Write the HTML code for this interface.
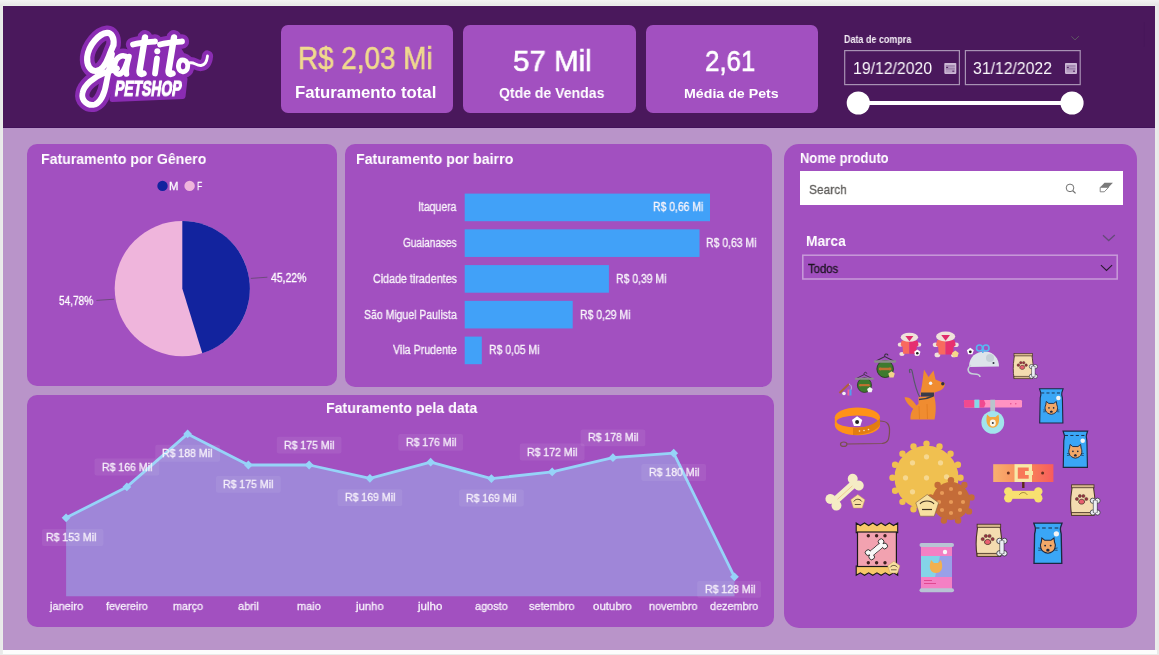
<!DOCTYPE html>
<html><head><meta charset="utf-8">
<style>
*{margin:0;padding:0;box-sizing:border-box}
html,body{width:1159px;height:655px;overflow:hidden;background:#e9e9e9;font-family:"Liberation Sans",sans-serif}
.a{position:absolute}
.t{position:absolute;white-space:nowrap;transform-origin:0 0;will-change:transform}
svg{position:absolute;left:0;top:0;overflow:visible}
</style></head><body>

<div class="a" style="left:0;top:0;width:1159px;height:6px;background:linear-gradient(#f3f3f3,#e5e5e5)"></div>
<div class="a" style="left:2px;top:5px;width:1155px;height:650px;background:#eaedea"></div>
<div class="a" style="left:2.5px;top:650px;width:1154px;height:4px;background:#fdfdfd"></div>
<div class="a" style="left:3px;top:6px;width:1152px;height:644px;background:#b994c9"></div>
<div class="a" style="left:3px;top:6px;width:1152px;height:121.5px;background:#4a185c;border-bottom:1px solid #42125a"></div>
<div class="a" style="left:280.5px;top:25px;width:172.3px;height:88px;background:#a250c0;border-radius:7px"></div>
<div class="a" style="left:463.4px;top:25px;width:172.3px;height:88px;background:#a250c0;border-radius:7px"></div>
<div class="a" style="left:645.7px;top:25px;width:172.3px;height:88px;background:#a250c0;border-radius:7px"></div>
<div class="t" style="left:298.30px;top:43px;font-size:31.5px;line-height:31.5px;color:#f0da8e;transform:scaleX(0.8844) ;-webkit-text-stroke:0.6px #f0da8e;">R$ 2,03 Mi</div>
<div class="t" style="left:294.80px;top:84px;font-size:16.5px;line-height:16.5px;color:#fff;font-weight:bold;transform:scaleX(1.0140) ;">Faturamento total</div>
<div class="t" style="left:513.10px;top:46px;font-size:30.0px;line-height:30.0px;color:#fff;transform:scaleX(0.9833) ;-webkit-text-stroke:0.6px #fff;">57 Mil</div>
<div class="t" style="left:498.80px;top:85px;font-size:15.5px;line-height:15.5px;color:#fff;font-weight:bold;transform:scaleX(0.9064) ;">Qtde de Vendas</div>
<div class="t" style="left:705.00px;top:46px;font-size:30.0px;line-height:30.0px;color:#fff;transform:scaleX(0.8616) ;-webkit-text-stroke:0.6px #fff;">2,61</div>
<div class="t" style="left:684.30px;top:87px;font-size:13.5px;line-height:13.5px;color:#fff;font-weight:bold;transform:scaleX(1.0519) ;">Média de Pets</div>
<div class="a" style="left:27px;top:144px;width:310px;height:241.6px;background:#a250c0;border-radius:10px"></div>
<div class="a" style="left:344.8px;top:144px;width:427.5px;height:242.7px;background:#a250c0;border-radius:10px"></div>
<div class="a" style="left:27px;top:394.8px;width:746.6px;height:232.5px;background:#a250c0;border-radius:10px"></div>
<div class="a" style="left:784px;top:144.3px;width:353px;height:483.7px;background:#a250c0;border-radius:15px"></div>
<div class="t" style="left:844.40px;top:35px;font-size:10.0px;line-height:10.0px;color:#f4eef6;font-weight:bold;transform:scaleX(0.8963) ;">Data de compra</div>
<svg width="1159" height="655"><polyline points="1071.5,36.4 1075,39.9 1078.9,36.2" fill="none" stroke="#5e5a62" stroke-width="1"/><rect x="844.7" y="50.6" width="114.7" height="34" fill="none" stroke="#a892b4" stroke-width="1.2"/><rect x="965.4" y="50.6" width="114.8" height="34" fill="none" stroke="#a892b4" stroke-width="1.2"/><line x1="1144.3" y1="22" x2="1144.3" y2="46.7" stroke="#47175a" stroke-width="1"/><line x1="858.3" y1="103" x2="1072" y2="103" stroke="#fff" stroke-width="4"/><circle cx="858.3" cy="103" r="11.6" fill="#fff"/><circle cx="1072" cy="103" r="11.6" fill="#fff"/></svg>
<div class="t" style="left:852.50px;top:61px;font-size:16.0px;line-height:16.0px;color:#fbf8fc;transform:scaleX(0.9865) ;">19/12/2020</div>
<div class="t" style="left:973.00px;top:61px;font-size:16.0px;line-height:16.0px;color:#fbf8fc;transform:scaleX(0.9853) ;">31/12/2022</div>
<svg width="1159" height="655"><rect x="944.3" y="62.9" width="12" height="11" rx="0.8" fill="#cbb7d4"/><rect x="945.8" y="65.5" width="9" height="7" fill="#b49cc0"/><rect x="945.8" y="65.5" width="9" height="0.8" fill="#8a6a98"/><rect x="945.8" y="68.5" width="9" height="0.8" fill="#8a6a98"/><rect x="946.0999999999999" y="66.9" width="2" height="1" fill="#4a1a5c"/><rect x="952.3" y="70.7" width="2" height="1" fill="#4a1a5c"/><rect x="1065" y="62.9" width="12" height="11" rx="0.8" fill="#cbb7d4"/><rect x="1066.5" y="65.5" width="9" height="7" fill="#b49cc0"/><rect x="1066.5" y="65.5" width="9" height="0.8" fill="#8a6a98"/><rect x="1066.5" y="68.5" width="9" height="0.8" fill="#8a6a98"/><rect x="1066.8" y="66.9" width="2" height="1" fill="#4a1a5c"/><rect x="1073" y="70.7" width="2" height="1" fill="#4a1a5c"/></svg>
<div class="t" style="left:40.70px;top:151px;font-size:15.0px;line-height:15.0px;color:#fff;font-weight:bold;transform:scaleX(0.9400) ;">Faturamento por Gênero</div>
<svg width="1159" height="655"><circle cx="162.5" cy="185.9" r="5.2" fill="#12239e"/><circle cx="189.6" cy="185.9" r="5.2" fill="#efb5dc"/></svg>
<div class="t" style="left:169.40px;top:181px;font-size:11.5px;line-height:11.5px;color:#fff;transform:scaleX(0.9813) ;-webkit-text-stroke:0.3px #fff;">M</div>
<div class="t" style="left:197.00px;top:181px;font-size:11.5px;line-height:11.5px;color:#fff;transform:scaleX(0.7401) ;-webkit-text-stroke:0.3px #fff;">F</div>
<svg width="1159" height="655"><circle cx="182.3" cy="288.6" r="67.6" fill="#efb5dc"/><path d="M182.3,288.6 L182.3,221.00000000000003 A67.6,67.6 0 0 1 202.30,353.17 Z" fill="#12239e"/><polyline points="250.8,278.4 267.4,277.2" fill="none" stroke="#6f4b7e" stroke-width="1"/><polyline points="96.4,300.4 114,299.2" fill="none" stroke="#6f4b7e" stroke-width="1"/></svg>
<div class="t" style="left:271.10px;top:272px;font-size:12.0px;line-height:12.0px;color:#fff;transform:scaleX(0.8697) ;-webkit-text-stroke:0.3px #fff;">45,22%</div>
<div class="t" style="left:58.60px;top:295px;font-size:12.0px;line-height:12.0px;color:#fff;transform:scaleX(0.8402) ;-webkit-text-stroke:0.3px #fff;">54,78%</div>
<div class="t" style="left:355.80px;top:151px;font-size:15.5px;line-height:15.5px;color:#fff;font-weight:bold;transform:scaleX(0.9178) ;">Faturamento por bairro</div>
<svg width="1159" height="655"><rect x="464.7" y="193.60" width="245.30" height="27.6" fill="#41a1f8"/><rect x="464.7" y="229.35" width="234.80" height="27.6" fill="#41a1f8"/><rect x="464.7" y="265.10" width="144.20" height="27.6" fill="#41a1f8"/><rect x="464.7" y="300.85" width="108.00" height="27.6" fill="#41a1f8"/><rect x="464.7" y="336.60" width="17.10" height="27.6" fill="#41a1f8"/></svg>
<div class="t" style="left:418.00px;top:201px;font-size:12.0px;line-height:12.0px;color:#f8f4fa;transform:scaleX(0.8742) ;-webkit-text-stroke:0.3px #f8f4fa;">Itaquera</div>
<div class="t" style="left:652.80px;top:201px;font-size:12.0px;line-height:12.0px;color:#f8f4fa;transform:scaleX(0.8669) ;-webkit-text-stroke:0.3px #f8f4fa;">R$ 0,66 Mi</div>
<div class="t" style="left:402.90px;top:237px;font-size:12.0px;line-height:12.0px;color:#f8f4fa;transform:scaleX(0.8369) ;-webkit-text-stroke:0.3px #f8f4fa;">Guaianases</div>
<div class="t" style="left:706.40px;top:237px;font-size:12.0px;line-height:12.0px;color:#f8f4fa;transform:scaleX(0.8704) ;-webkit-text-stroke:0.3px #f8f4fa;">R$ 0,63 Mi</div>
<div class="t" style="left:372.60px;top:273px;font-size:12.0px;line-height:12.0px;color:#f8f4fa;transform:scaleX(0.8920) ;-webkit-text-stroke:0.3px #f8f4fa;">Cidade tiradentes</div>
<div class="t" style="left:615.80px;top:273px;font-size:12.0px;line-height:12.0px;color:#f8f4fa;transform:scaleX(0.8704) ;-webkit-text-stroke:0.3px #f8f4fa;">R$ 0,39 Mi</div>
<div class="t" style="left:363.80px;top:309px;font-size:12.0px;line-height:12.0px;color:#f8f4fa;transform:scaleX(0.8740) ;-webkit-text-stroke:0.3px #f8f4fa;">São Miguel Paulista</div>
<div class="t" style="left:579.60px;top:309px;font-size:12.0px;line-height:12.0px;color:#f8f4fa;transform:scaleX(0.8704) ;-webkit-text-stroke:0.3px #f8f4fa;">R$ 0,29 Mi</div>
<div class="t" style="left:392.80px;top:344px;font-size:12.0px;line-height:12.0px;color:#f8f4fa;transform:scaleX(0.8868) ;-webkit-text-stroke:0.3px #f8f4fa;">Vila Prudente</div>
<div class="t" style="left:488.70px;top:344px;font-size:12.0px;line-height:12.0px;color:#f8f4fa;transform:scaleX(0.8704) ;-webkit-text-stroke:0.3px #f8f4fa;">R$ 0,05 Mi</div>
<div class="t" style="left:326.30px;top:400px;font-size:15.5px;line-height:15.5px;color:#fff;font-weight:bold;transform:scaleX(0.9149) ;">Faturamento pela data</div>
<svg width="1159" height="655"><path d="M66.1,596.3 L66.10,517.8 L126.86,486.9 L187.62,433.9 L248.38,465.0 L309.14,465.0 L369.90,478.3 L430.66,462.2 L491.42,478.6 L552.18,471.9 L612.94,457.7 L673.70,453.2 L734.46,576.8 L734.5,596.3 Z" fill="#9f86d8"/><polyline points="66.10,517.8 126.86,486.9 187.62,433.9 248.38,465.0 309.14,465.0 369.90,478.3 430.66,462.2 491.42,478.6 552.18,471.9 612.94,457.7 673.70,453.2 734.46,576.8" fill="none" stroke="#96d3f8" stroke-width="2.8" stroke-linejoin="round"/><rect x="63.00" y="514.70" width="6.2" height="6.2" fill="#96d3f8" transform="rotate(45 66.10 517.8)"/><rect x="123.76" y="483.80" width="6.2" height="6.2" fill="#96d3f8" transform="rotate(45 126.86 486.9)"/><rect x="184.52" y="430.80" width="6.2" height="6.2" fill="#96d3f8" transform="rotate(45 187.62 433.9)"/><rect x="245.28" y="461.90" width="6.2" height="6.2" fill="#96d3f8" transform="rotate(45 248.38 465.0)"/><rect x="306.04" y="461.90" width="6.2" height="6.2" fill="#96d3f8" transform="rotate(45 309.14 465.0)"/><rect x="366.80" y="475.20" width="6.2" height="6.2" fill="#96d3f8" transform="rotate(45 369.90 478.3)"/><rect x="427.56" y="459.10" width="6.2" height="6.2" fill="#96d3f8" transform="rotate(45 430.66 462.2)"/><rect x="488.32" y="475.50" width="6.2" height="6.2" fill="#96d3f8" transform="rotate(45 491.42 478.6)"/><rect x="549.08" y="468.80" width="6.2" height="6.2" fill="#96d3f8" transform="rotate(45 552.18 471.9)"/><rect x="609.84" y="454.60" width="6.2" height="6.2" fill="#96d3f8" transform="rotate(45 612.94 457.7)"/><rect x="670.60" y="450.10" width="6.2" height="6.2" fill="#96d3f8" transform="rotate(45 673.70 453.2)"/><rect x="731.36" y="573.70" width="6.2" height="6.2" fill="#96d3f8" transform="rotate(45 734.46 576.8)"/><rect x="42.00" y="529.10" width="61.4" height="16.9" rx="2" fill="#ffffff" fill-opacity="0.07"/><rect x="94.51" y="458.60" width="64.7" height="16.9" rx="2" fill="#ffffff" fill-opacity="0.07"/><rect x="155.27" y="444.80" width="64.7" height="16.9" rx="2" fill="#ffffff" fill-opacity="0.07"/><rect x="216.03" y="475.90" width="64.7" height="16.9" rx="2" fill="#ffffff" fill-opacity="0.07"/><rect x="276.79" y="436.70" width="64.7" height="16.9" rx="2" fill="#ffffff" fill-opacity="0.07"/><rect x="337.55" y="489.20" width="64.7" height="16.9" rx="2" fill="#ffffff" fill-opacity="0.07"/><rect x="398.31" y="433.90" width="64.7" height="16.9" rx="2" fill="#ffffff" fill-opacity="0.07"/><rect x="459.07" y="489.50" width="64.7" height="16.9" rx="2" fill="#ffffff" fill-opacity="0.07"/><rect x="519.83" y="443.60" width="64.7" height="16.9" rx="2" fill="#ffffff" fill-opacity="0.07"/><rect x="580.59" y="429.40" width="64.7" height="16.9" rx="2" fill="#ffffff" fill-opacity="0.07"/><rect x="641.35" y="464.10" width="64.7" height="16.9" rx="2" fill="#ffffff" fill-opacity="0.07"/><rect x="697.20" y="580.90" width="63.9" height="16.9" rx="2" fill="#ffffff" fill-opacity="0.07"/></svg>
<div class="t" style="left:45.90px;top:532px;font-size:11.0px;line-height:11.0px;color:#f6f0fa;transform:scaleX(0.9566) ;-webkit-text-stroke:0.3px #f6f0fa;">R$ 153 Mil</div>
<div class="t" style="left:101.71px;top:462px;font-size:11.0px;line-height:11.0px;color:#f6f0fa;transform:scaleX(0.9566) ;-webkit-text-stroke:0.3px #f6f0fa;">R$ 166 Mil</div>
<div class="t" style="left:162.47px;top:448px;font-size:11.0px;line-height:11.0px;color:#f6f0fa;transform:scaleX(0.9566) ;-webkit-text-stroke:0.3px #f6f0fa;">R$ 188 Mil</div>
<div class="t" style="left:223.23px;top:479px;font-size:11.0px;line-height:11.0px;color:#f6f0fa;transform:scaleX(0.9566) ;-webkit-text-stroke:0.3px #f6f0fa;">R$ 175 Mil</div>
<div class="t" style="left:283.99px;top:440px;font-size:11.0px;line-height:11.0px;color:#f6f0fa;transform:scaleX(0.9566) ;-webkit-text-stroke:0.3px #f6f0fa;">R$ 175 Mil</div>
<div class="t" style="left:344.75px;top:492px;font-size:11.0px;line-height:11.0px;color:#f6f0fa;transform:scaleX(0.9566) ;-webkit-text-stroke:0.3px #f6f0fa;">R$ 169 Mil</div>
<div class="t" style="left:405.51px;top:437px;font-size:11.0px;line-height:11.0px;color:#f6f0fa;transform:scaleX(0.9566) ;-webkit-text-stroke:0.3px #f6f0fa;">R$ 176 Mil</div>
<div class="t" style="left:466.27px;top:493px;font-size:11.0px;line-height:11.0px;color:#f6f0fa;transform:scaleX(0.9566) ;-webkit-text-stroke:0.3px #f6f0fa;">R$ 169 Mil</div>
<div class="t" style="left:527.03px;top:447px;font-size:11.0px;line-height:11.0px;color:#f6f0fa;transform:scaleX(0.9566) ;-webkit-text-stroke:0.3px #f6f0fa;">R$ 172 Mil</div>
<div class="t" style="left:587.79px;top:432px;font-size:11.0px;line-height:11.0px;color:#f6f0fa;transform:scaleX(0.9566) ;-webkit-text-stroke:0.3px #f6f0fa;">R$ 178 Mil</div>
<div class="t" style="left:648.55px;top:467px;font-size:11.0px;line-height:11.0px;color:#f6f0fa;transform:scaleX(0.9566) ;-webkit-text-stroke:0.3px #f6f0fa;">R$ 180 Mil</div>
<div class="t" style="left:704.60px;top:584px;font-size:11.0px;line-height:11.0px;color:#f6f0fa;transform:scaleX(0.9566) ;-webkit-text-stroke:0.3px #f6f0fa;">R$ 128 Mil</div>
<div class="t" style="left:49.58px;top:601px;font-size:11.5px;line-height:11.5px;color:#f6f0fa;transform:scaleX(0.9595) ;-webkit-text-stroke:0.3px #f6f0fa;">janeiro</div>
<div class="t" style="left:106.30px;top:601px;font-size:11.5px;line-height:11.5px;color:#f6f0fa;transform:scaleX(0.9364) ;-webkit-text-stroke:0.3px #f6f0fa;">fevereiro</div>
<div class="t" style="left:173.00px;top:601px;font-size:11.5px;line-height:11.5px;color:#f6f0fa;transform:scaleX(0.9422) ;-webkit-text-stroke:0.3px #f6f0fa;">março</div>
<div class="t" style="left:238.20px;top:601px;font-size:11.5px;line-height:11.5px;color:#f6f0fa;transform:scaleX(0.9570) ;-webkit-text-stroke:0.3px #f6f0fa;">abril</div>
<div class="t" style="left:297.20px;top:601px;font-size:11.5px;line-height:11.5px;color:#f6f0fa;transform:scaleX(0.9586) ;-webkit-text-stroke:0.3px #f6f0fa;">maio</div>
<div class="t" style="left:356.18px;top:601px;font-size:11.5px;line-height:11.5px;color:#f6f0fa;transform:scaleX(0.9849) ;-webkit-text-stroke:0.3px #f6f0fa;">junho</div>
<div class="t" style="left:418.29px;top:601px;font-size:11.5px;line-height:11.5px;color:#f6f0fa;transform:scaleX(1.0005) ;-webkit-text-stroke:0.3px #f6f0fa;">julho</div>
<div class="t" style="left:474.80px;top:601px;font-size:11.5px;line-height:11.5px;color:#f6f0fa;transform:scaleX(0.9472) ;-webkit-text-stroke:0.3px #f6f0fa;">agosto</div>
<div class="t" style="left:528.90px;top:601px;font-size:11.5px;line-height:11.5px;color:#f6f0fa;transform:scaleX(0.9493) ;-webkit-text-stroke:0.3px #f6f0fa;">setembro</div>
<div class="t" style="left:593.40px;top:601px;font-size:11.5px;line-height:11.5px;color:#f6f0fa;transform:scaleX(0.9921) ;-webkit-text-stroke:0.3px #f6f0fa;">outubro</div>
<div class="t" style="left:649.20px;top:601px;font-size:11.5px;line-height:11.5px;color:#f6f0fa;transform:scaleX(0.9484) ;-webkit-text-stroke:0.3px #f6f0fa;">novembro</div>
<div class="t" style="left:709.80px;top:601px;font-size:11.5px;line-height:11.5px;color:#f6f0fa;transform:scaleX(0.9425) ;-webkit-text-stroke:0.3px #f6f0fa;">dezembro</div>
<div class="t" style="left:800.00px;top:151px;font-size:14.0px;line-height:14.0px;color:#fff;font-weight:bold;transform:scaleX(0.9262) ;">Nome produto</div>
<div class="a" style="left:800px;top:171px;width:323.2px;height:34px;background:#fff"></div>
<div class="t" style="left:809.10px;top:183px;font-size:13.5px;line-height:13.5px;color:#605e5c;transform:scaleX(0.8838) ;-webkit-text-stroke:0.3px #605e5c;">Search</div>
<svg width="1159" height="655"><circle cx="1070" cy="187.9" r="3.8" fill="none" stroke="#707070" stroke-width="1"/><line x1="1072.8" y1="190.7" x2="1075.6" y2="193.4" stroke="#707070" stroke-width="1.2"/><path d="M1104.5,182.8 L1112.9,182.8 L1108.6,187.3 L1100.2,187.3 Z" fill="#7a7a7a"/><path d="M1100.2,187.3 L1108.6,187.3 L1104.3,191.8 L1100.2,191.8 Z" fill="none" stroke="#7a7a7a" stroke-width="0.9"/><polyline points="1103,235.2 1108.7,240.5 1114.8,235" fill="none" stroke="#664a7a" stroke-width="1.3"/><rect x="802.8" y="255.2" width="314.4" height="23.8" fill="none" stroke="#c89bd9" stroke-width="1.5"/><polyline points="1100.9,265.1 1106.5,270.5 1112.1,265.1" fill="none" stroke="#2a1a30" stroke-width="1.1"/></svg>
<div class="t" style="left:805.80px;top:233px;font-size:15.5px;line-height:15.5px;color:#fff;font-weight:bold;transform:scaleX(0.8863) ;">Marca</div>
<div class="t" style="left:808.30px;top:263px;font-size:12.0px;line-height:12.0px;color:#1c1420;transform:scaleX(0.9433) ;-webkit-text-stroke:0.3px #1c1420;">Todos</div>
<svg width="1159" height="655"><g transform="translate(898.1,332.7) scale(1.0)"><ellipse cx="2.2" cy="12" rx="2.6" ry="2.1" fill="#efe2da"/><ellipse cx="20.6" cy="12" rx="2.6" ry="2.1" fill="#efe2da"/><ellipse cx="3.8" cy="21.3" rx="2.6" ry="2.1" fill="#efe2da"/><ellipse cx="18.8" cy="21.3" rx="2.6" ry="2.1" fill="#efe2da"/><path d="M3.5,8 L11.3,7 L11.3,21 L5,21 L4.5,14 L2.5,12.5 Z" fill="#f86a5e"/><path d="M11.3,7 L19.5,8 L20.5,12.5 L18.5,14 L18,21 L11.3,21 Z" fill="#e63070"/><ellipse cx="11.3" cy="4.6" rx="8.7" ry="4.5" fill="#efe2da"/><path d="M7.3,3.2 L15.3,3.2 L11.3,8.5 Z" fill="#e02a6a"/></g><polygon points="917.30,349.50 920.44,351.78 919.24,355.47 915.36,355.47 914.16,351.78" fill="#ffffff"/><circle cx="917.3" cy="353.2" r="1.3" fill="#202020"/><g transform="translate(933.2,331.5) scale(1.1)"><ellipse cx="2.2" cy="12" rx="2.6" ry="2.1" fill="#efe2da"/><ellipse cx="20.6" cy="12" rx="2.6" ry="2.1" fill="#efe2da"/><ellipse cx="3.8" cy="21.3" rx="2.6" ry="2.1" fill="#efe2da"/><ellipse cx="18.8" cy="21.3" rx="2.6" ry="2.1" fill="#efe2da"/><path d="M3.5,8 L11.3,7 L11.3,21 L5,21 L4.5,14 L2.5,12.5 Z" fill="#f86a5e"/><path d="M11.3,7 L19.5,8 L20.5,12.5 L18.5,14 L18,21 L11.3,21 Z" fill="#e63070"/><ellipse cx="11.3" cy="4.6" rx="8.7" ry="4.5" fill="#efe2da"/><path d="M7.3,3.2 L15.3,3.2 L11.3,8.5 Z" fill="#e02a6a"/></g><polygon points="955.30,350.60 958.72,353.09 957.42,357.11 953.18,357.11 951.88,353.09" fill="#f6d98a"/><path d="M969,367 C969,356 977,351 986,351.5 C994,352 999,359 999,366.5 Z" fill="#dde4ea"/><circle cx="990" cy="358" r="4" fill="#c6d0d8"/><circle cx="993.5" cy="363" r="1" fill="#303040"/><path d="M971,365 C966,369 968,374 974,374 C978,374 980,375 980,377" fill="none" stroke="#c6d0d8" stroke-width="1.6"/><circle cx="979.5" cy="348" r="3" fill="none" stroke="#58b8f0" stroke-width="1.6"/><circle cx="986" cy="348" r="3" fill="none" stroke="#58b8f0" stroke-width="1.6"/><line x1="982.8" y1="350" x2="982.8" y2="353" stroke="#58b8f0" stroke-width="1.6"/><polygon points="970.30,347.70 973.72,350.19 972.42,354.21 968.18,354.21 966.88,350.19" fill="#ffffff"/><circle cx="970.3" cy="351.8" r="1.4" fill="#202020"/><g transform="translate(873.5,353) scale(1.03)"><path d="M11,3.5 C10,0.5 14,0 14,2.5" fill="none" stroke="#3a3040" stroke-width="1"/><path d="M2,8 L11,3.5 L20,8" fill="none" stroke="#3a3040" stroke-width="1"/><ellipse cx="11.3" cy="15.5" rx="8" ry="8.3" fill="#3e7a2e" stroke="#2a3a20" stroke-width="0.9"/><rect x="0.5" y="7" width="21.5" height="2.4" rx="1.1" fill="#8c8c8c"/><rect x="6.5" y="14.3" width="9.5" height="2.4" fill="#c07030"/><circle cx="6.5" cy="15.5" r="1.4" fill="#c07030"/><circle cx="16" cy="15.5" r="1.4" fill="#c07030"/><polygon points="17.50,17.70 20.64,19.98 19.44,23.67 15.56,23.67 14.36,19.98" fill="#f2d48a"/></g><g transform="translate(854.5,371.5) scale(0.88)"><path d="M11,3.5 C10,0.5 14,0 14,2.5" fill="none" stroke="#3a3040" stroke-width="1"/><path d="M2,8 L11,3.5 L20,8" fill="none" stroke="#3a3040" stroke-width="1"/><ellipse cx="11.3" cy="15.5" rx="8" ry="8.3" fill="#3e7a2e" stroke="#2a3a20" stroke-width="0.9"/><rect x="0.5" y="7" width="21.5" height="2.4" rx="1.1" fill="#8c8c8c"/><rect x="6.5" y="14.3" width="9.5" height="2.4" fill="#c07030"/><circle cx="6.5" cy="15.5" r="1.4" fill="#c07030"/><circle cx="16" cy="15.5" r="1.4" fill="#c07030"/><polygon points="17.50,17.70 20.64,19.98 19.44,23.67 15.56,23.67 14.36,19.98" fill="#f4f4f4"/></g><line x1="839.5" y1="393" x2="849" y2="384" stroke="#b0603a" stroke-width="2"/><path d="M849,384 C852,385 852,389 850,391" fill="none" stroke="#c8d0f0" stroke-width="0.8"/><rect x="847.5" y="389.5" width="2" height="6" fill="#f06090"/><rect x="849.5" y="389.5" width="2" height="6" fill="#50a0f0"/><circle cx="844" cy="393.5" r="1.8" fill="#f4f4f4"/><path d="M910,373 C908,368 912,368 912.5,373 C914,381 916,391 920.5,398.5" fill="none" stroke="#555a68" stroke-width="1.2"/><path d="M904.5,397.5 C908,396 913,400 916,405 L917,411 C912,409 906,403 904.5,397.5 Z" fill="#f08c30"/><path d="M918.5,397 L934,395.5 C936.5,404 936,413 934.5,419.5 L910.5,419.5 C910,413 913,407 918.5,404 Z" fill="#f08c30"/><path d="M920,395 L922,385 L924,369.5 L928.5,377 L933.5,370.5 L935.5,379.5 L945,383.5 C945,388 941,391 934.5,392.5 L934,397 Z" fill="#f08c30"/><rect x="921" y="392.5" width="13" height="4" fill="#3a3c4a"/><path d="M919,399.5 C924,399.5 929,398 933,396" fill="none" stroke="#3a3c4a" stroke-width="1.5"/><circle cx="930.6" cy="383.3" r="1.7" fill="#f4f4f4"/><circle cx="942.8" cy="383.8" r="1.7" fill="#303040"/><path d="M919,406 L919.5,419" stroke="#e07a20" stroke-width="0.8"/><path d="M927,404 L927.5,419" stroke="#e07a20" stroke-width="0.8"/><ellipse cx="857.4" cy="425" rx="22.6" ry="10.2" fill="#ff9218"/><rect x="834.8" y="417" width="45.2" height="8" fill="#ff9218"/><ellipse cx="857.4" cy="417.4" rx="22.6" ry="9.8" fill="#ff9218"/><ellipse cx="857.2" cy="421.5" rx="20.6" ry="6" fill="#a250c0"/><path d="M853,434.9 C866,434.9 876,431 880,425 L880,418 C876,424 866,428 853,428 Z" fill="#e27c12"/><circle cx="859.5" cy="431" r="0.8" fill="#f8e0c0"/><circle cx="864" cy="430.5" r="0.8" fill="#f8e0c0"/><circle cx="868.5" cy="429.5" r="0.8" fill="#f8e0c0"/><path d="M880,421 C887,421 890,424 889.5,432 C889,440 888,443 882,443.5 L847,444" fill="none" stroke="#7a5050" stroke-width="1.2"/><ellipse cx="843.7" cy="444.2" rx="3.2" ry="2.2" fill="none" stroke="#7a5050" stroke-width="1.2"/><polygon points="857.10,416.20 862.24,419.93 860.27,425.97 853.93,425.97 851.96,419.93" fill="#ffffff"/><circle cx="857.1" cy="422" r="2" fill="#202020"/><rect x="964" y="400.1" width="58" height="7.3" rx="1.2" fill="#ff92c2"/><rect x="964" y="400.1" width="10.5" height="7.3" rx="1" fill="#f04a90"/><path d="M979.3,400.1 L984,400.1 L985.5,403.7 L984,407.4 L979.3,407.4 Z" fill="#f04a90"/><rect x="974.5" y="399.6" width="4.8" height="8.3" fill="#84d8e8"/><circle cx="1010.8" cy="403.7" r="0.7" fill="#e04a8a"/><circle cx="1015.8" cy="403.7" r="0.7" fill="#e04a8a"/><rect x="990.3" y="399.7" width="4.8" height="13" fill="#b8c4cc"/><circle cx="992.8" cy="422.4" r="11.4" fill="#a2e4ec"/><path d="M986.5,418 L987,414.5 L990,417 L995.5,417 L998.5,414.5 L999,418 C999.5,424 997,427.5 992.8,427.8 C988.5,427.5 986,424 986.5,418 Z" fill="#f2a840"/><ellipse cx="992.8" cy="423" rx="3" ry="3.4" fill="#f8f4ec"/><circle cx="992.8" cy="423" r="1" fill="#303030"/><g transform="translate(1013.5,353) scale(0.97)"><path d="M1,2 L19,2 L19.5,6 C20.5,12 20.5,20 19.5,26 L0.5,26 C-0.5,20 -0.5,12 0.5,6 Z" fill="#f4dcb0" stroke="#4a3428" stroke-width="0.9"/><rect x="0.5" y="0.5" width="19" height="2.5" fill="#d6b68a" stroke="#4a3428" stroke-width="0.7"/><rect x="0.5" y="24" width="19" height="2.5" fill="#d6b68a" stroke="#4a3428" stroke-width="0.7"/><path d="M6.5,15 C6.5,12 11.5,12 11.5,15 C11.5,17.5 6.5,17.5 6.5,15 Z" fill="#e86070" stroke="#4a3428" stroke-width="0.7"/><circle cx="5" cy="12.5" r="1.3" fill="#9a3040" stroke="#4a3428" stroke-width="0.4"/><circle cx="7.5" cy="10" r="1.3" fill="#9a3040" stroke="#4a3428" stroke-width="0.4"/><circle cx="10.5" cy="10" r="1.3" fill="#9a3040" stroke="#4a3428" stroke-width="0.4"/><circle cx="13" cy="12.5" r="1.3" fill="#9a3040" stroke="#4a3428" stroke-width="0.4"/><g transform="translate(20.5,19)"><g fill="#eceef4" stroke="#3a3a40" stroke-width="0.7"><circle cx="-2" cy="-5" r="2.2"/><circle cx="2" cy="-5" r="2.2"/><circle cx="-2" cy="5" r="2.2"/><circle cx="2" cy="5" r="2.2"/><rect x="-1.6" y="-5" width="3.2" height="10"/></g><rect x="-1.25" y="-5.2" width="2.5" height="10.4" fill="#eceef4"/></g></g><g transform="translate(1071,484.2) scale(1.18)"><path d="M1,2 L19,2 L19.5,6 C20.5,12 20.5,20 19.5,26 L0.5,26 C-0.5,20 -0.5,12 0.5,6 Z" fill="#f4dcb0" stroke="#4a3428" stroke-width="0.9"/><rect x="0.5" y="0.5" width="19" height="2.5" fill="#d6b68a" stroke="#4a3428" stroke-width="0.7"/><rect x="0.5" y="24" width="19" height="2.5" fill="#d6b68a" stroke="#4a3428" stroke-width="0.7"/><path d="M6.5,15 C6.5,12 11.5,12 11.5,15 C11.5,17.5 6.5,17.5 6.5,15 Z" fill="#e86070" stroke="#4a3428" stroke-width="0.7"/><circle cx="5" cy="12.5" r="1.3" fill="#9a3040" stroke="#4a3428" stroke-width="0.4"/><circle cx="7.5" cy="10" r="1.3" fill="#9a3040" stroke="#4a3428" stroke-width="0.4"/><circle cx="10.5" cy="10" r="1.3" fill="#9a3040" stroke="#4a3428" stroke-width="0.4"/><circle cx="13" cy="12.5" r="1.3" fill="#9a3040" stroke="#4a3428" stroke-width="0.4"/><g transform="translate(20.5,19)"><g fill="#eceef4" stroke="#3a3a40" stroke-width="0.7"><circle cx="-2" cy="-5" r="2.2"/><circle cx="2" cy="-5" r="2.2"/><circle cx="-2" cy="5" r="2.2"/><circle cx="2" cy="5" r="2.2"/><rect x="-1.6" y="-5" width="3.2" height="10"/></g><rect x="-1.25" y="-5.2" width="2.5" height="10.4" fill="#eceef4"/></g></g><g transform="translate(976.5,523.6) scale(1.24)"><path d="M1,2 L19,2 L19.5,6 C20.5,12 20.5,20 19.5,26 L0.5,26 C-0.5,20 -0.5,12 0.5,6 Z" fill="#f4dcb0" stroke="#4a3428" stroke-width="0.9"/><rect x="0.5" y="0.5" width="19" height="2.5" fill="#d6b68a" stroke="#4a3428" stroke-width="0.7"/><rect x="0.5" y="24" width="19" height="2.5" fill="#d6b68a" stroke="#4a3428" stroke-width="0.7"/><path d="M6.5,15 C6.5,12 11.5,12 11.5,15 C11.5,17.5 6.5,17.5 6.5,15 Z" fill="#e86070" stroke="#4a3428" stroke-width="0.7"/><circle cx="5" cy="12.5" r="1.3" fill="#9a3040" stroke="#4a3428" stroke-width="0.4"/><circle cx="7.5" cy="10" r="1.3" fill="#9a3040" stroke="#4a3428" stroke-width="0.4"/><circle cx="10.5" cy="10" r="1.3" fill="#9a3040" stroke="#4a3428" stroke-width="0.4"/><circle cx="13" cy="12.5" r="1.3" fill="#9a3040" stroke="#4a3428" stroke-width="0.4"/><g transform="translate(20.5,19)"><g fill="#eceef4" stroke="#3a3a40" stroke-width="0.7"><circle cx="-2" cy="-5" r="2.2"/><circle cx="2" cy="-5" r="2.2"/><circle cx="-2" cy="5" r="2.2"/><circle cx="2" cy="5" r="2.2"/><rect x="-1.6" y="-5" width="3.2" height="10"/></g><rect x="-1.25" y="-5.2" width="2.5" height="10.4" fill="#eceef4"/></g></g><g transform="translate(1038.7,388) scale(1.008,0.9944444444444444)"><path d="M0.8,0.8 L24.2,0.8 L23,4.5 C22.5,6 23,8 23.5,10 L24,35.2 L1,35.2 L1.5,10 C2,8 2.5,6 2,4.5 Z" fill="#3aa6f6" stroke="#1c2840" stroke-width="1.1"/><line x1="2.5" y1="5" x2="22.5" y2="5" stroke="#1c2840" stroke-width="0.9" stroke-dasharray="3 2.2"/><path d="M7,17 L7.5,13.5 L10,15.5 L15,15.5 L17.5,13.5 L18,17 C19.5,20 19,25.5 12.5,26.5 C6,25.5 5.5,20 7,17 Z" fill="#f2a868" stroke="#1c2840" stroke-width="0.9"/><circle cx="10.2" cy="20" r="0.8" fill="#1c2840"/><circle cx="14.8" cy="20" r="0.8" fill="#1c2840"/><path d="M11,23.5 L12.5,22.5 L14,23.5 L13.5,25 L11.5,25 Z" fill="#1c2840"/><path d="M4.5,22 L7,22.5 M4.5,24 L7,23.8 M20.5,22 L18,22.5 M20.5,24 L18,23.8" stroke="#1c2840" stroke-width="0.6"/><circle cx="19.5" cy="10" r="2.2" fill="#f4f4f4"/></g><g transform="translate(1062.2,430.2) scale(1.052,1.0555555555555556)"><path d="M0.8,0.8 L24.2,0.8 L23,4.5 C22.5,6 23,8 23.5,10 L24,35.2 L1,35.2 L1.5,10 C2,8 2.5,6 2,4.5 Z" fill="#3aa6f6" stroke="#1c2840" stroke-width="1.1"/><line x1="2.5" y1="5" x2="22.5" y2="5" stroke="#1c2840" stroke-width="0.9" stroke-dasharray="3 2.2"/><path d="M7,17 L7.5,13.5 L10,15.5 L15,15.5 L17.5,13.5 L18,17 C19.5,20 19,25.5 12.5,26.5 C6,25.5 5.5,20 7,17 Z" fill="#f2a868" stroke="#1c2840" stroke-width="0.9"/><circle cx="10.2" cy="20" r="0.8" fill="#1c2840"/><circle cx="14.8" cy="20" r="0.8" fill="#1c2840"/><path d="M11,23.5 L12.5,22.5 L14,23.5 L13.5,25 L11.5,25 Z" fill="#1c2840"/><path d="M4.5,22 L7,22.5 M4.5,24 L7,23.8 M20.5,22 L18,22.5 M20.5,24 L18,23.8" stroke="#1c2840" stroke-width="0.6"/><circle cx="19.5" cy="10" r="2.2" fill="#f4f4f4"/></g><g transform="translate(1032.8,522.1) scale(1.208,1.1749999999999998)"><path d="M0.8,0.8 L24.2,0.8 L23,4.5 C22.5,6 23,8 23.5,10 L24,35.2 L1,35.2 L1.5,10 C2,8 2.5,6 2,4.5 Z" fill="#3aa6f6" stroke="#1c2840" stroke-width="1.1"/><line x1="2.5" y1="5" x2="22.5" y2="5" stroke="#1c2840" stroke-width="0.9" stroke-dasharray="3 2.2"/><path d="M7,17 L7.5,13.5 L10,15.5 L15,15.5 L17.5,13.5 L18,17 C19.5,20 19,25.5 12.5,26.5 C6,25.5 5.5,20 7,17 Z" fill="#f2a868" stroke="#1c2840" stroke-width="0.9"/><circle cx="10.2" cy="20" r="0.8" fill="#1c2840"/><circle cx="14.8" cy="20" r="0.8" fill="#1c2840"/><path d="M11,23.5 L12.5,22.5 L14,23.5 L13.5,25 L11.5,25 Z" fill="#1c2840"/><path d="M4.5,22 L7,22.5 M4.5,24 L7,23.8 M20.5,22 L18,22.5 M20.5,24 L18,23.8" stroke="#1c2840" stroke-width="0.6"/><circle cx="19.5" cy="10" r="2.2" fill="#f4f4f4"/></g><circle cx="926.5" cy="477.8" r="32" fill="#f0c050"/><circle cx="926.50" cy="443.80" r="3.2" fill="#f0c050"/><circle cx="939.51" cy="446.39" r="3.2" fill="#f0c050"/><circle cx="950.54" cy="453.76" r="3.2" fill="#f0c050"/><circle cx="957.91" cy="464.79" r="3.2" fill="#f0c050"/><circle cx="960.50" cy="477.80" r="3.2" fill="#f0c050"/><circle cx="957.91" cy="490.81" r="3.2" fill="#f0c050"/><circle cx="950.54" cy="501.84" r="3.2" fill="#f0c050"/><circle cx="939.51" cy="509.21" r="3.2" fill="#f0c050"/><circle cx="926.50" cy="511.80" r="3.2" fill="#f0c050"/><circle cx="913.49" cy="509.21" r="3.2" fill="#f0c050"/><circle cx="902.46" cy="501.84" r="3.2" fill="#f0c050"/><circle cx="895.09" cy="490.81" r="3.2" fill="#f0c050"/><circle cx="892.50" cy="477.80" r="3.2" fill="#f0c050"/><circle cx="895.09" cy="464.79" r="3.2" fill="#f0c050"/><circle cx="902.46" cy="453.76" r="3.2" fill="#f0c050"/><circle cx="913.49" cy="446.39" r="3.2" fill="#f0c050"/><circle cx="926.5" cy="456.8" r="2.6" fill="#f6d890"/><circle cx="912.5" cy="462.8" r="2.6" fill="#f6d890"/><circle cx="940.5" cy="462.8" r="2.6" fill="#f6d890"/><circle cx="905.5" cy="477.8" r="2.6" fill="#f6d890"/><circle cx="926.5" cy="477.8" r="2.6" fill="#f6d890"/><circle cx="946.5" cy="476.8" r="2.6" fill="#f6d890"/><circle cx="912.5" cy="491.8" r="2.6" fill="#f6d890"/><circle cx="951" cy="501" r="19" fill="#c46c38"/><circle cx="951.00" cy="480.20" r="3.2" fill="#c46c38"/><circle cx="964.37" cy="485.07" r="3.2" fill="#c46c38"/><circle cx="971.48" cy="497.39" r="3.2" fill="#c46c38"/><circle cx="969.01" cy="511.40" r="3.2" fill="#c46c38"/><circle cx="958.11" cy="520.55" r="3.2" fill="#c46c38"/><circle cx="943.89" cy="520.55" r="3.2" fill="#c46c38"/><circle cx="932.99" cy="511.40" r="3.2" fill="#c46c38"/><circle cx="930.52" cy="497.39" r="3.2" fill="#c46c38"/><circle cx="937.63" cy="485.07" r="3.2" fill="#c46c38"/><circle cx="951" cy="489" r="2.1" fill="#e89a58"/><circle cx="942" cy="493" r="2.1" fill="#e89a58"/><circle cx="960" cy="493" r="2.1" fill="#e89a58"/><circle cx="939" cy="502" r="2.1" fill="#e89a58"/><circle cx="951" cy="502" r="2.1" fill="#e89a58"/><circle cx="963" cy="502" r="2.1" fill="#e89a58"/><circle cx="942" cy="510" r="2.1" fill="#e89a58"/><circle cx="960" cy="510" r="2.1" fill="#e89a58"/><circle cx="951" cy="513" r="2.1" fill="#e89a58"/><polygon points="927.20,494.50 938.61,502.79 934.25,516.21 920.15,516.21 915.79,502.79" fill="#f8e0a0" stroke="#806040" stroke-width="0.6"/><path d="M920,504 C923,500 931,500 934,504" fill="none" stroke="#403020" stroke-width="1.2"/><line x1="922" y1="509.5" x2="932" y2="509.5" stroke="#403020" stroke-width="1.2"/><g transform="translate(844.6,492.2) rotate(-42)"><rect x="-14" y="-3.8" width="28" height="7.6" fill="#f5ecc5"/><circle cx="-15" cy="-4.5" r="5" fill="#f5ecc5"/><circle cx="-15" cy="4.5" r="5" fill="#f5ecc5"/><circle cx="15" cy="-4.5" r="5" fill="#f5ecc5"/><circle cx="15" cy="4.5" r="5" fill="#f5ecc5"/><line x1="-10" y1="0.5" x2="10" y2="0.5" stroke="#f0c890" stroke-width="0.9"/></g><polygon points="857.80,494.60 864.84,499.71 862.15,507.99 853.45,507.99 850.76,499.71" fill="#f8e0a0" stroke="#c8a060" stroke-width="0.5"/><path d="M853.8,501.5 C855.5,498.5 860,498.5 861.8,501.5" fill="none" stroke="#403020" stroke-width="0.9"/><line x1="854.8" y1="504.5" x2="860.8" y2="504.5" stroke="#403020" stroke-width="0.8"/><defs><linearGradient id="rc" x1="0" x2="1" y1="0" y2="0"><stop offset="0" stop-color="#f8b070"/><stop offset="0.5" stop-color="#f88a58"/><stop offset="1" stop-color="#f85c5c"/></linearGradient></defs><rect x="993.2" y="464.2" width="60.2" height="17.8" fill="url(#rc)"/><rect x="1014.5" y="464.2" width="17.5" height="17.8" fill="#f8e8a8"/><rect x="1017.8" y="467.5" width="10.9" height="11.2" fill="#f87858"/><rect x="1025" y="471" width="8" height="4" fill="#f8e8a8"/><circle cx="1008.3" cy="473.1" r="1.5" fill="#6a3020"/><circle cx="1042.6" cy="473.1" r="1.5" fill="#6a3020"/><rect x="1022.1" y="482" width="2.4" height="6" fill="#5a2a18"/><g transform="translate(1023.3,494.8)"><rect x="-14" y="-4" width="28" height="8" fill="#f8e070"/><circle cx="-15" cy="-3.4" r="4.2" fill="#f8e070"/><circle cx="-15" cy="3.4" r="4.2" fill="#f8e070"/><circle cx="15" cy="-3.4" r="4.2" fill="#f8e070"/><circle cx="15" cy="3.4" r="4.2" fill="#f8e070"/><path d="M-4,0 C-2,-3 2,-3 4,0" fill="none" stroke="#806020" stroke-width="0.7"/></g><path d="M856.2,532.6 L856.20,523 L860.35,525.5 L864.50,523 L868.65,525.5 L872.80,523 L876.95,525.5 L881.10,523 L885.25,525.5 L889.40,523 L893.55,525.5 L897.70,523 L897.7,532.6 Z" fill="#f8c868" stroke="#1a1a1a" stroke-width="1.1"/><path d="M897.7,566 L897.70,575.3 L893.55,572.8 L889.40,575.3 L885.25,572.8 L881.10,575.3 L876.95,572.8 L872.80,575.3 L868.65,572.8 L864.50,575.3 L860.35,572.8 L856.20,575.3 L856.2,566 Z" fill="#f8c868" stroke="#1a1a1a" stroke-width="1.1"/><rect x="857.5" y="532" width="38.9" height="34.5" fill="#f2a2b0" stroke="#1a1a1a" stroke-width="1.2"/><circle cx="868.3" cy="535.8" r="1.7" fill="#402020"/><circle cx="876.6" cy="535.8" r="1.7" fill="#402020"/><circle cx="885" cy="535.8" r="1.7" fill="#402020"/><circle cx="868.3" cy="562.8" r="1.7" fill="#402020"/><circle cx="876.6" cy="562.8" r="1.7" fill="#402020"/><circle cx="885" cy="562.8" r="1.7" fill="#402020"/><g transform="translate(876.4,549.3) rotate(-40)"><rect x="-8" y="-2.6" width="16" height="5.2" fill="#f8f8f8" stroke="#1a1a1a" stroke-width="0.8"/><circle cx="-8.5" cy="-2.8" r="2.8" fill="#f8f8f8" stroke="#1a1a1a" stroke-width="0.8"/><circle cx="-8.5" cy="2.8" r="2.8" fill="#f8f8f8" stroke="#1a1a1a" stroke-width="0.8"/><circle cx="8.5" cy="-2.8" r="2.8" fill="#f8f8f8" stroke="#1a1a1a" stroke-width="0.8"/><circle cx="8.5" cy="2.8" r="2.8" fill="#f8f8f8" stroke="#1a1a1a" stroke-width="0.8"/><rect x="-8.5" y="-2.2" width="17" height="4.4" fill="#f8f8f8"/></g><polygon points="893.80,561.30 899.89,565.72 897.56,572.88 890.04,572.88 887.71,565.72" fill="#f8e0a0" stroke="#c8a060" stroke-width="0.5"/><path d="M890.3,567.3 C891.8,564.8 895.8,564.8 897.3,567.3" fill="none" stroke="#403020" stroke-width="0.8"/><line x1="891" y1="569.8" x2="896.6" y2="569.8" stroke="#403020" stroke-width="0.7"/><rect x="921" y="545" width="31" height="44.5" fill="#f480c4"/><rect x="921" y="556" width="31" height="21" fill="#84d4e8"/><path d="M940,556 L952,556 L952,577 L935,577 Z" fill="#9aa0e8"/><path d="M930,564 L931,560 L934,563 L938,563 L941,560 L942,564 C943,570 940,573 936,573 C932,573 929,570 930,564 Z" fill="#f2b050"/><rect x="924" y="580" width="8" height="1" fill="#e04890"/><rect x="924" y="583" width="12" height="1" fill="#e04890"/><rect x="919.5" y="542.9" width="34.5" height="4" rx="2" fill="#b8c4d4"/><rect x="919.5" y="588.2" width="34.5" height="4" rx="2" fill="#b8c4d4"/><circle cx="945" cy="552" r="2.2" fill="#f8f8f8"/></svg>
<svg width="1159" height="655"><g fill="none" stroke="#8a2cb2" stroke-linecap="round" stroke-linejoin="round"><path d="M113.5,45 C114.5,37 111,32.5 107,32.8 C99,33.5 88.5,45 87.2,57 C86.5,65 90,71 95.5,71 C101,71 106,64 109,56 C110.5,52 112,48.5 113.5,45" stroke-width="14.7"/><path d="M112,54 L106.5,82 C105,92 101,102 95,104.5 C87,106.5 81,100 82.5,93 C84,85 94,77 104,73 L117,68.5" stroke-width="14.3"/><path d="M128.5,58 C123,53.5 116,56 114.5,65 C113.5,73 118.5,76 122,72.5 C125,69.5 127,63 129,56.5 C127.5,62 125.5,70 126.5,74" stroke-width="14.1"/><path d="M145,37.5 L139.5,71 C139.5,74 141.5,74.5 143.5,73.5" stroke-width="14.9"/><path d="M133,44.5 C140,42.5 148,42 155,41.5" stroke-width="14.3"/><path d="M157,58.5 L155,73.5" stroke-width="14.3"/><path d="M174,37.5 L168.5,71 C168.5,74 170.5,74.5 172.5,73.5" stroke-width="14.9"/><path d="M160,44.5 C167,42.5 175,42 182,41.5" stroke-width="14.3"/><path d="M182.5,60 C186.5,60 188.5,64 187.5,68 C186.5,72 181.5,73 179.5,70 C177.5,67 178.5,60 182.5,60 Z" stroke-width="13.3"/><path d="M188,63.5 C193,60.5 196,66 201,65.5 C205,65 207,61 207.5,56" stroke-width="11.3"/><circle cx="157.3" cy="51.3" r="6.5" fill="#8a2cb2" stroke="none"/><path d="M116,79 L185,79 L183,96.5 L112,99.5 Z" fill="#8a2cb2" stroke="#8a2cb2" stroke-width="5" stroke-linejoin="round"/><path d="M112,50 L181,48 L186,56 L187,76 L110,80 Z" fill="#8a2cb2" stroke="none"/></g><g fill="none" stroke="#fff" stroke-linecap="round" stroke-linejoin="round"><path d="M113.5,45 C114.5,37 111,32.5 107,32.8 C99,33.5 88.5,45 87.2,57 C86.5,65 90,71 95.5,71 C101,71 106,64 109,56 C110.5,52 112,48.5 113.5,45" stroke-width="6.2"/><path d="M112,54 L106.5,82 C105,92 101,102 95,104.5 C87,106.5 81,100 82.5,93 C84,85 94,77 104,73 L117,68.5" stroke-width="5.8"/><path d="M128.5,58 C123,53.5 116,56 114.5,65 C113.5,73 118.5,76 122,72.5 C125,69.5 127,63 129,56.5 C127.5,62 125.5,70 126.5,74" stroke-width="5.6"/><path d="M145,37.5 L139.5,71 C139.5,74 141.5,74.5 143.5,73.5" stroke-width="6.4"/><path d="M133,44.5 C140,42.5 148,42 155,41.5" stroke-width="5.8"/><path d="M157,58.5 L155,73.5" stroke-width="5.8"/><path d="M174,37.5 L168.5,71 C168.5,74 170.5,74.5 172.5,73.5" stroke-width="6.4"/><path d="M160,44.5 C167,42.5 175,42 182,41.5" stroke-width="5.8"/><path d="M182.5,60 C186.5,60 188.5,64 187.5,68 C186.5,72 181.5,73 179.5,70 C177.5,67 178.5,60 182.5,60 Z" stroke-width="4.8"/><path d="M188,63.5 C193,60.5 196,66 201,65.5 C205,65 207,61 207.5,56" stroke-width="2.8"/><circle cx="157.3" cy="51.3" r="3" fill="#fff" stroke="none"/></g></svg>
<div class="t" style="left:114.50px;top:78px;font-size:21.0px;line-height:21.0px;color:#fff;font-weight:bold;transform:scaleX(0.6626) translateX(2.5px) skewX(-12deg);-webkit-text-stroke:1.2px #fff;">PETSHOP</div>
</body></html>
